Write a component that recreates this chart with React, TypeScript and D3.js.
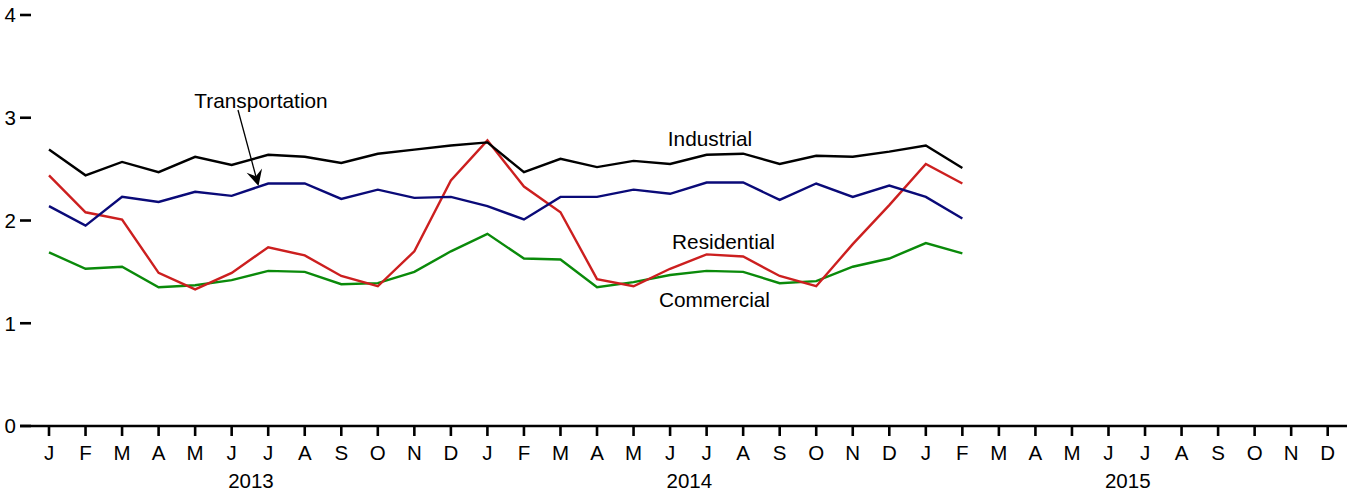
import React from "react";
import * as d3 from "d3";

const monthLabels = ["J","F","M","A","M","J","J","A","S","O","N","D"];
const years = ["2013", "2014", "2015"];
const yTicks = [0, 1, 2, 3, 4];

const industrial = [2.69,2.44,2.57,2.47,2.62,2.54,2.64,2.62,2.56,2.65,2.69,2.73,2.76,2.47,2.60,2.52,2.58,2.55,2.64,2.65,2.55,2.63,2.62,2.67,2.73,2.51];
const transportation = [2.14,1.95,2.23,2.18,2.28,2.24,2.36,2.36,2.21,2.30,2.22,2.23,2.14,2.01,2.23,2.23,2.30,2.26,2.37,2.37,2.20,2.36,2.23,2.34,2.23,2.02];
const residential = [2.44,2.08,2.01,1.49,1.33,1.49,1.74,1.66,1.46,1.36,1.70,2.39,2.78,2.33,2.08,1.43,1.36,1.53,1.67,1.65,1.46,1.36,1.77,2.15,2.55,2.36];
const commercial = [1.69,1.53,1.55,1.35,1.37,1.42,1.51,1.50,1.38,1.39,1.50,1.70,1.87,1.63,1.62,1.35,1.40,1.47,1.51,1.50,1.39,1.41,1.55,1.63,1.78,1.68];

const seriesList = [
  { name: "Commercial", values: commercial, color: "#0a8a0a" },
  { name: "Residential", values: residential, color: "#cc1f1f" },
  { name: "Transportation", values: transportation, color: "#0a0a78" },
  { name: "Industrial", values: industrial, color: "#000000" },
];

const W = 1352, H = 495;
const FONT = "'Liberation Sans', Arial, Helvetica, sans-serif";

export default function App() {
  const nMonths = years.length * 12;
  const x = d3.scaleLinear().domain([0, nMonths - 1]).range([49, 1327.7]);
  const y = d3.scaleLinear().domain([0, 4]).range([426, 15]);
  const line = d3.line<number>().x((_, i) => x(i)).y((d) => y(d));

  const months = d3.range(nMonths);

  const ax0 = 238, ay0 = 110, ax1 = 258.5, ay1 = 186;
  const ang = Math.atan2(ay1 - ay0, ax1 - ax0);
  const L = 16, Wd = 8, notch = 6;
  const bx = ax1 - L * Math.cos(ang), by = ay1 - L * Math.sin(ang);
  const px = -Math.sin(ang), py = Math.cos(ang);
  const nx = ax1 - (L - notch) * Math.cos(ang), ny = ay1 - (L - notch) * Math.sin(ang);
  const head = `M${ax1},${ay1} L${bx + px * Wd},${by + py * Wd} L${nx},${ny} L${bx - px * Wd},${by - py * Wd} Z`;

  return (
    <svg width={W} height={H} style={{ position: "absolute", left: 0, top: 0, background: "#fff" }} fontFamily={FONT}>
      {yTicks.map((t) => (
        <g key={t}>
          <line x1={20} x2={31} y1={y(t)} y2={y(t)} stroke="#000" strokeWidth={2.6} />
          <text x={16} y={y(t)} dy="0.36em" textAnchor="end" fontSize={20.5} fill="#000">{t}</text>
        </g>
      ))}
      <line x1={20} x2={1347} y1={y(0)} y2={y(0)} stroke="#000" strokeWidth={2.6} />
      {months.map((m) => (
        <g key={m}>
          <line x1={x(m)} x2={x(m)} y1={y(0)} y2={y(0) + 10} stroke="#000" strokeWidth={2.6} />
          <text x={x(m)} y={460} textAnchor="middle" fontSize={20.5} fill="#000">{monthLabels[m % 12]}</text>
        </g>
      ))}
      {years.map((yr, i) => (
        <text key={yr} x={(x(i * 12) + x(i * 12 + 11)) / 2 + 1} y={488} textAnchor="middle" fontSize={20.5} fill="#000">{yr}</text>
      ))}
      {seriesList.map((s) => (
        <path key={s.name} d={line(s.values) || ""} fill="none" stroke={s.color} strokeWidth={2.4} strokeLinejoin="miter" />
      ))}
      <text x={261} y={108} textAnchor="middle" fontSize={20.8} fill="#000">Transportation</text>
      <line x1={ax0} y1={ay0} x2={nx} y2={ny} stroke="#000" strokeWidth={1.3} />
      <path d={head} fill="#000" />
      <text x={710} y={146} textAnchor="middle" fontSize={20.8} fill="#000">Industrial</text>
      <text x={723.5} y={249} textAnchor="middle" fontSize={20.8} fill="#000">Residential</text>
      <text x={714.5} y={307} textAnchor="middle" fontSize={20.8} fill="#000">Commercial</text>
    </svg>
  );
}
